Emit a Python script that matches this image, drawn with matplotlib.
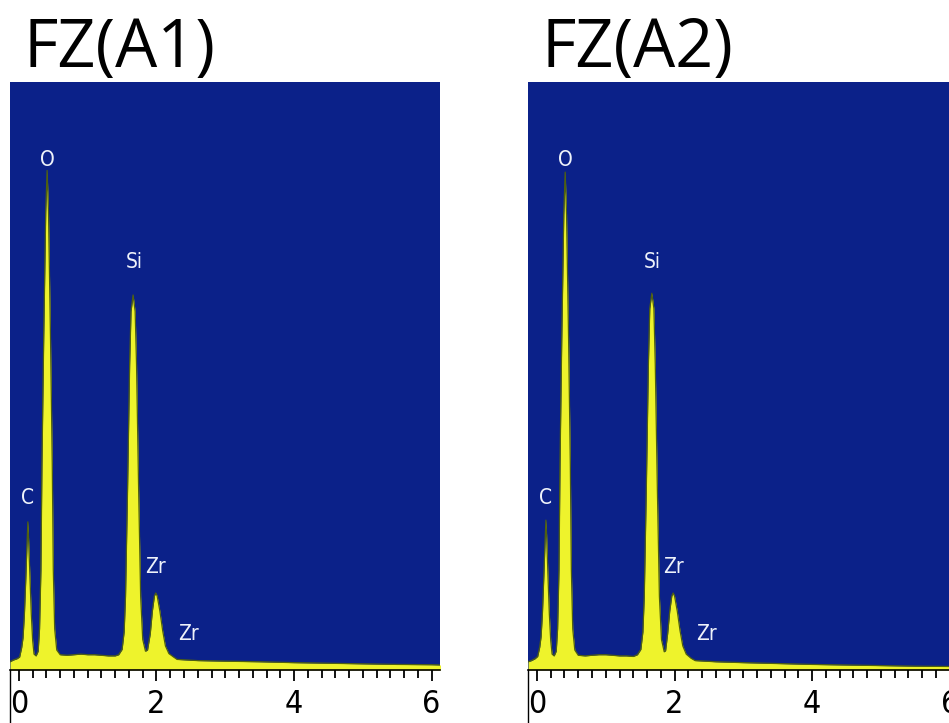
import numpy as np
import matplotlib.pyplot as plt
from matplotlib.lines import Line2D

# EDS spectra, energy in keV, counts in % of full scale
energia_a1 = [-0.13, -0.08, -0.03, 0.01, 0.04, 0.06, 0.08, 0.10, 0.12, 0.13, 0.14, 0.16,
              0.18, 0.20, 0.22, 0.25, 0.28, 0.30, 0.32, 0.335, 0.36, 0.39, 0.41, 0.43,
              0.46, 0.485, 0.50, 0.52, 0.55, 0.60, 0.70, 0.80, 0.90, 1.00, 1.10, 1.20,
              1.30, 1.40, 1.45, 1.50, 1.53, 1.55, 1.58, 1.61, 1.63, 1.66, 1.69, 1.71,
              1.74, 1.77, 1.80, 1.84, 1.87, 1.91, 1.94, 1.97, 1.99, 2.01, 2.05, 2.09,
              2.13, 2.18, 2.25, 2.30, 2.60, 3.00, 3.50, 4.00, 4.50, 5.00, 5.50, 6.00, 6.15]
cuentas_a1 = [1.4, 1.7, 1.9, 2.2, 3.8, 5.5, 9.5, 15.5, 22.0, 25.2, 22.5, 16.0,
              9.5, 5.0, 2.7, 2.4, 3.2, 7.0, 17.0, 35.0, 56.0, 78.0, 85.0, 78.0,
              56.0, 35.0, 17.0, 7.0, 3.4, 2.6, 2.5, 2.6, 2.7, 2.6, 2.6, 2.5,
              2.4, 2.4, 2.6, 3.5, 6.5, 12.5, 31.0, 52.0, 61.0, 63.8, 61.0, 52.0,
              31.0, 12.5, 5.2, 3.2, 3.4, 6.2, 10.0, 12.6, 13.1, 12.6, 10.0, 6.7,
              4.1, 2.8, 2.2, 1.8, 1.6, 1.5, 1.4, 1.25, 1.15, 1.05, 0.95, 0.9, 0.85]

energia_a2 = [-0.13, -0.08, -0.03, 0.01, 0.04, 0.06, 0.08, 0.10, 0.12, 0.13, 0.14, 0.16,
              0.18, 0.20, 0.22, 0.25, 0.28, 0.30, 0.32, 0.335, 0.36, 0.39, 0.41, 0.43,
              0.46, 0.485, 0.50, 0.52, 0.55, 0.60, 0.70, 0.80, 0.90, 1.00, 1.10, 1.20,
              1.30, 1.40, 1.46, 1.51, 1.54, 1.56, 1.59, 1.62, 1.64, 1.67, 1.70, 1.72,
              1.75, 1.78, 1.81, 1.85, 1.87, 1.90, 1.93, 1.96, 1.98, 2.00, 2.04, 2.08,
              2.12, 2.17, 2.24, 2.30, 2.60, 3.00, 3.50, 4.00, 4.50, 5.00, 5.50, 6.00, 6.15]
cuentas_a2 = [1.4, 1.6, 1.9, 2.3, 3.9, 5.7, 9.8, 16.0, 22.5, 25.5, 23.0, 16.0,
              9.5, 5.0, 2.7, 2.4, 3.2, 7.0, 17.0, 35.0, 56.0, 77.5, 84.7, 77.5,
              56.0, 35.0, 17.0, 7.0, 3.4, 2.5, 2.4, 2.5, 2.6, 2.6, 2.5, 2.4,
              2.4, 2.3, 2.6, 3.5, 6.5, 12.5, 31.0, 52.0, 61.5, 64.1, 61.5, 52.0,
              31.0, 12.5, 5.2, 3.1, 3.3, 6.2, 10.0, 12.6, 13.1, 12.6, 10.0, 6.7,
              4.1, 2.7, 2.0, 1.6, 1.4, 1.25, 1.1, 0.95, 0.85, 0.75, 0.65, 0.6, 0.55]

# etiquetas de los picos (elemento, energia, altura)
elementos = ['C', 'O', 'Si', 'Zr', 'Zr']
etiq_e_a1 = [0.13, 0.41, 1.67, 1.98, 2.46]
etiq_y_a1 = [29.3, 86.7, 69.4, 17.5, 6.1]
etiq_e_a2 = [0.13, 0.42, 1.67, 1.99, 2.46]
etiq_y_a2 = [29.3, 86.7, 69.4, 17.5, 6.1]

titulos = ['FZ(A1)', 'FZ(A2)']
fondo = '#0b2189'
amarillo = '#eef32c'
fuente_eje = ['Liberation Sans Narrow', 'DejaVu Sans']

fig = plt.figure(figsize=(9.49, 7.23), dpi=100)

paneles = [
    (0.0105, energia_a1, cuentas_a1, etiq_e_a1, etiq_y_a1),
    (0.5564, energia_a2, cuentas_a2, etiq_e_a2, etiq_y_a2),
]

for i, (izq, energia, cuentas, etq_e, etq_y) in enumerate(paneles):
    ax = fig.add_axes([izq, 0.0733, 0.453, 0.813])
    ax.set_facecolor(fondo)
    ax.fill_between(energia, 0, cuentas, color=amarillo, lw=0)
    ax.plot(energia, cuentas, color='#4f6010', lw=0.9)
    ax.set_xlim(-0.13, 6.12)
    ax.set_ylim(0, 100)

    for nombre, e, y in zip(elementos, etq_e, etq_y):
        ax.text(e, y, nombre, color='#eef2fa', fontsize=15, ha='center', va='center',
                family=fuente_eje, fontstretch='condensed')

    for lado in ['top', 'right', 'left']:
        ax.spines[lado].set_visible(False)
    ax.spines['bottom'].set_linewidth(1.2)
    ax.set_yticks([])
    ax.set_xticks([0, 2, 4, 6])
    ax.set_xticks(np.arange(0, 6.2, 0.2), minor=True)
    ax.tick_params(axis='x', which='major', length=8, width=1.3, pad=6,
                   labelsize=23)
    ax.tick_params(axis='x', which='minor', length=5.5, width=1.3)
    for lab in ax.get_xticklabels():
        lab.set_family(fuente_eje)
        lab.set_fontstretch('condensed')

    # linea vertical bajo el eje
    ax.add_line(Line2D([0, 0], [0, -0.12], transform=ax.transAxes, color='black',
                       lw=1, clip_on=False))

    fig.text(izq + 0.0145, 0.907, titulos[i], fontsize=48, family='Open Sans',
             ha='left', va='baseline')

fig.savefig('out.png', dpi=100)
